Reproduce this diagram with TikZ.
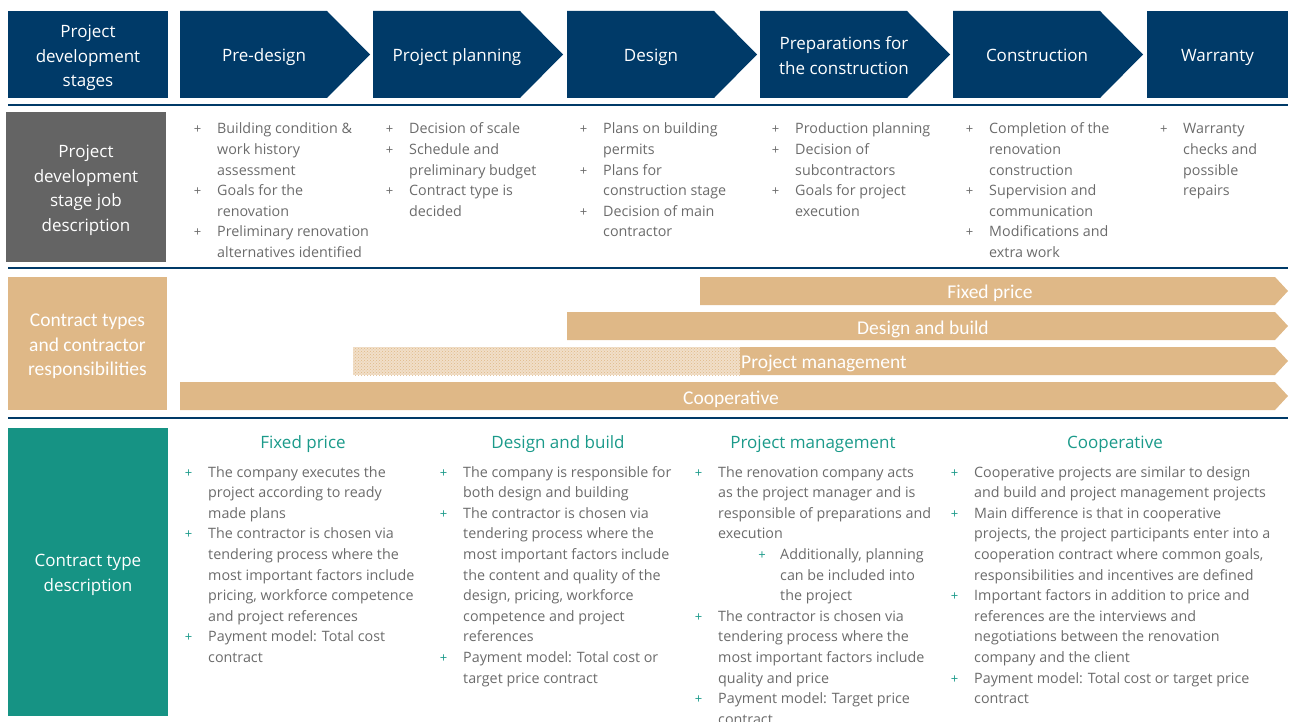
\documentclass[tikz,border=0pt]{standalone}
\usepackage{fontspec}
\setmainfont{Open Sans}
\newfontfamily\condfont{Carlito}
\usetikzlibrary{patterns}

\definecolor{navy}{HTML}{003A68}
\definecolor{greybox}{HTML}{646464}
\definecolor{tanbar}{HTML}{DFB887}
\definecolor{tealbox}{HTML}{169384}
\definecolor{tealtext}{HTML}{1B9A8A}
\definecolor{bodytext}{HTML}{6B6B6B}

% bullet markers: grey for stage tasks, teal for contract descriptions
\newcommand\gplus{\makebox[39pt]{\fontsize{13}{13}\selectfont +}}
\newcommand\tplus{\makebox[39pt]{\fontsize{13}{13}\selectfont\color{tealtext}+}}
\newcommand\subplus{\hspace{62pt}\llap{\makebox[36pt]{\fontsize{13}{13}\selectfont\color{tealtext}+}}}

\tikzset{
  x=1pt, y=-1pt,
  stagefill/.style={fill=navy},
  panel/.style={inner sep=0pt, minimum width=160pt},
  headtext/.style={text=white, align=center, inner sep=0pt,
    font=\fontsize{17}{24.5}\selectfont},
  stagelabel/.style={headtext, anchor=base},
  tanlabel/.style={text=white, align=center, inner sep=0pt,
    font=\condfont\fontsize{19.5}{24.5}\selectfont},
  barfill/.style={fill=tanbar},
  barlabel/.style={text=white, inner sep=0pt, anchor=base,
    font=\condfont\fontsize{19.5}{24.5}\selectfont},
  bulletcol/.style={anchor=base west, inner sep=0pt, text=bodytext,
    font=\fontsize{14.3}{20.6}\selectfont},
  colhead/.style={text=tealtext, inner sep=0pt, anchor=base,
    font=\fontsize{17}{20}\selectfont},
  rule/.style={navy, line width=1.6pt},
}

\begin{document}
\begin{tikzpicture}
\useasboundingbox (0,0) rectangle (1289,722);
\clip (0,0) rectangle (1289,722);

% ---------- stage header row ----------
\node[panel, fill=navy, minimum height=87pt] (stagesbox) at (88,54.5) {};
\node[headtext] (stages) at (88,58) {Project\\development\\stages};
\foreach \x/\name/\txt in {180/predesign/Pre-design,
                          373/planning/Project planning,
                          567/design/Design,
                          953/construction/Construction}{
  \fill[stagefill] (\x,11) -- ++(147,0) -- ++(43,43.5) -- ++(-43,43.5)
    -- ++(-147,0) -- cycle;
  \node[stagelabel] (\name) at (\x+84,62) {\txt};
}
\fill[stagefill] (760,11) -- ++(147,0) -- ++(43,43.5) -- ++(-43,43.5)
  -- ++(-147,0) -- cycle;
\node[headtext] (prep) at (844,55.5) {Preparations for\\the construction};
\node[panel, fill=navy, minimum width=141pt, minimum height=87pt]
  (warrantybox) at (1217.5,54.5) {};
\node[stagelabel] (warranty) at (1217.5,62) {Warranty};

\draw[rule] (8,105) -- (1288,105);

% ---------- job description row ----------
\node[panel, fill=greybox, minimum height=150pt] (jobsbox) at (86,187) {};
\node[headtext] (jobs) at (86,190.5) {Project\\development\\stage job\\description};

\node[bulletcol] (job1) at (178,134) {\begin{tabular}[t]{@{}l@{}l@{}}
\gplus & Building condition \& \\
       & work history \\
       & assessment \\
\gplus & Goals for the \\
       & renovation \\
\gplus & Preliminary renovation \\
       & alternatives identified
\end{tabular}};
\node[bulletcol] (job2) at (370,134) {\begin{tabular}[t]{@{}l@{}l@{}}
\gplus & Decision of scale \\
\gplus & Schedule and \\
       & preliminary budget \\
\gplus & Contract type is \\
       & decided
\end{tabular}};
\node[bulletcol] (job3) at (564,134) {\begin{tabular}[t]{@{}l@{}l@{}}
\gplus & Plans on building \\
       & permits \\
\gplus & Plans for \\
       & construction stage \\
\gplus & Decision of main \\
       & contractor
\end{tabular}};
\node[bulletcol] (job4) at (756,134) {\begin{tabular}[t]{@{}l@{}l@{}}
\gplus & Production planning \\
\gplus & Decision of \\
       & subcontractors \\
\gplus & Goals for project \\
       & execution
\end{tabular}};
\node[bulletcol] (job5) at (950,134) {\begin{tabular}[t]{@{}l@{}l@{}}
\gplus & Completion of the \\
       & renovation \\
       & construction \\
\gplus & Supervision and \\
       & communication \\
\gplus & Modifications and \\
       & extra work
\end{tabular}};
\node[bulletcol] (job6) at (1144,134) {\begin{tabular}[t]{@{}l@{}l@{}}
\gplus & Warranty \\
       & checks and \\
       & possible \\
       & repairs
\end{tabular}};

\draw[rule] (8,268) -- (1288,268);

% ---------- contract types row ----------
\node[panel, fill=tanbar, minimum width=159pt, minimum height=133pt]
  (typesbox) at (87.5,343.5) {};
\node[tanlabel] (types) at (87.5,346.5) {Contract types\\and contractor\\responsibilities};

\fill[barfill] (700,277) -- (1275,277) -- (1288,291) -- (1275,305) -- (700,305) -- cycle;
\node[barlabel] (fixedbar) at (990,298) {Fixed price};

\fill[barfill] (567,312) -- (1275,312) -- (1288,326) -- (1275,340) -- (567,340) -- cycle;
\node[barlabel] (dbbar) at (923,334) {Design and build};

\fill[tanbar!45] (353,347) rectangle (740,375);
\fill[pattern=crosshatch dots, pattern color=tanbar] (353,347) rectangle (740,375);
\fill[barfill] (740,347) -- (1275,347) -- (1288,361) -- (1275,375) -- (740,375) -- cycle;
\node[barlabel, anchor=base west] (pmbar) at (741,368) {Project management};

\fill[barfill] (180,382) -- (1275,382) -- (1288,396) -- (1275,410) -- (180,410) -- cycle;
\node[barlabel] (coopbar) at (731,404) {Cooperative};

\draw[rule] (8,418) -- (1288,418);

% ---------- contract type description row ----------
\node[panel, fill=tealbox, minimum height=288pt] (typedescbox) at (88,572) {};
\node[headtext] (typedesc) at (88,575) {Contract type\\description};

\node[colhead] (fixedhead) at (303,448) {Fixed price};
\node[colhead] (dbhead) at (558,448) {Design and build};
\node[colhead] (pmhead) at (813,448) {Project management};
\node[colhead] (coophead) at (1115,448) {Cooperative};

\node[bulletcol] (fixedtext) at (169,477) {\begin{tabular}[t]{@{}l@{}l@{}}
\tplus & The company executes the \\
       & project according to ready \\
       & made plans \\
\tplus & The contractor is chosen via \\
       & tendering process where the \\
       & most important factors include \\
       & pricing, workforce competence \\
       & and project references \\
\tplus & Payment model: Total cost \\
       & contract
\end{tabular}};
\node[bulletcol] (dbtext) at (424,477) {\begin{tabular}[t]{@{}l@{}l@{}}
\tplus & The company is responsible for \\
       & both design and building \\
\tplus & The contractor is chosen via \\
       & tendering process where the \\
       & most important factors include \\
       & the content and quality of the \\
       & design, pricing, workforce \\
       & competence and project \\
       & references \\
\tplus & Payment model: Total cost or \\
       & target price contract
\end{tabular}};
\node[bulletcol] (pmtext) at (679,477) {\begin{tabular}[t]{@{}l@{}l@{}}
\tplus & The renovation company acts \\
       & as the project manager and is \\
       & responsible of preparations and \\
       & execution \\
       & \subplus Additionally, planning \\
       & \hspace{62pt}can be included into \\
       & \hspace{62pt}the project \\
\tplus & The contractor is chosen via \\
       & tendering process where the \\
       & most important factors include \\
       & quality and price \\
\tplus & Payment model: Target price \\
       & contract
\end{tabular}};
\node[bulletcol] (cooptext) at (935,477) {\begin{tabular}[t]{@{}l@{}l@{}}
\tplus & Cooperative projects are similar to design \\
       & and build and project management projects \\
\tplus & Main difference is that in cooperative \\
       & projects, the project participants enter into a \\
       & cooperation contract where common goals, \\
       & responsibilities and incentives are defined \\
\tplus & Important factors in addition to price and \\
       & references are the interviews and \\
       & negotiations between the renovation \\
       & company and the client \\
\tplus & Payment model: Total cost or target price \\
       & contract
\end{tabular}};
\end{tikzpicture}
\end{document}
